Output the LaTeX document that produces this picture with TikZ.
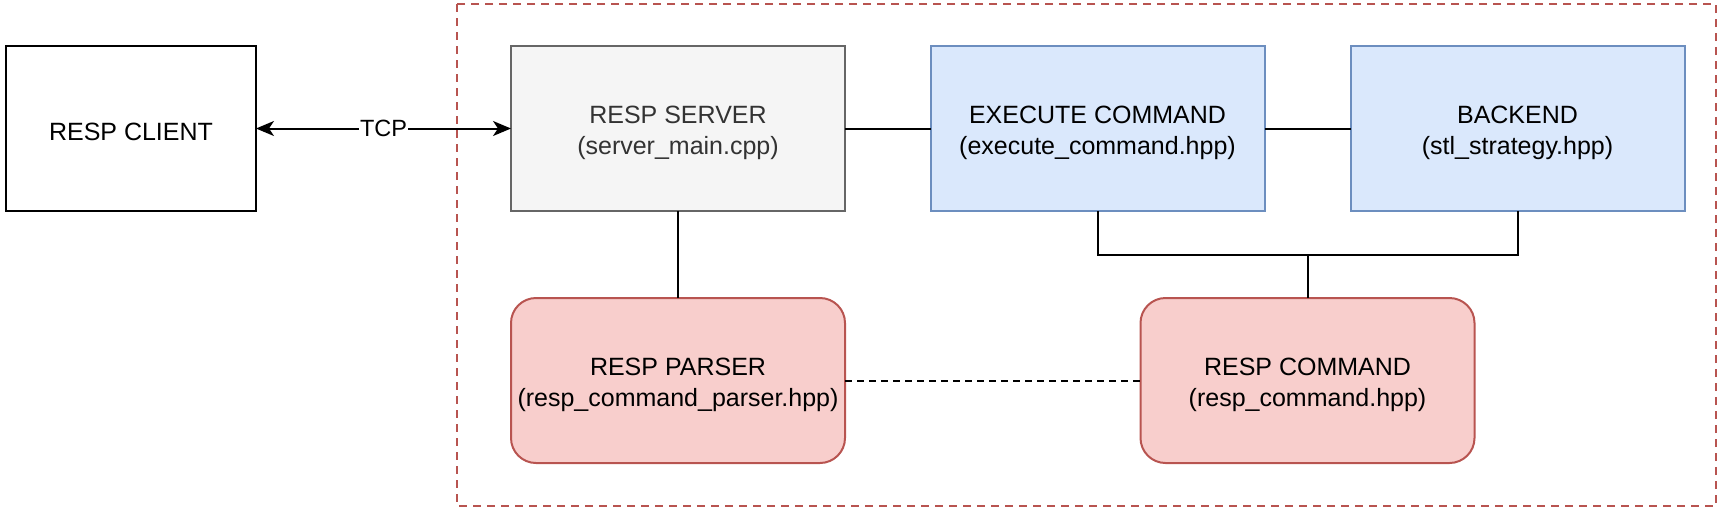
\documentclass[tikz,border=0pt]{standalone}
\usepackage{fontspec}
\setmainfont{Liberation Sans}
\usetikzlibrary{arrows.meta}
\definecolor{grayfill}{HTML}{F5F5F5}
\definecolor{graystroke}{HTML}{666666}
\definecolor{graytext}{HTML}{333333}
\definecolor{bluefill}{HTML}{DAE8FC}
\definecolor{bluestroke}{HTML}{6C8EBF}
\definecolor{redfill}{HTML}{F8CECC}
\definecolor{redstroke}{HTML}{B85450}
\tikzset{
  box/.style={draw, line width=2pt, minimum width=334pt, minimum height=165pt, inner sep=0pt, outer sep=0pt},
  txt/.style={align=center, font=\fontsize{25}{31}\selectfont, inner sep=0pt},
  plainbox/.style={box, draw=black, fill=white, minimum width=250pt},
  graybox/.style={box, draw=graystroke, fill=grayfill},
  bluebox/.style={box, draw=bluestroke, fill=bluefill},
  redbox/.style={box, draw=redstroke, fill=redfill, rounded corners=25pt},
  conn/.style={line width=2pt, draw=black},
  dashconn/.style={conn, dash pattern=on 7pt off 5pt},
  bothtips/.style={>={Stealth[length=18pt, width=15pt, inset=5pt]}, <->}
}
\begin{document}
\begin{tikzpicture}[x=1pt, y=-1pt]
\useasboundingbox (0,0) rectangle (1723,512);
\draw[redstroke, line width=2pt, dash pattern=on 8pt off 6pt] (457,4) rectangle (1716,506);
\node[plainbox] (client) at (131,128.5) {};
\node[graybox] (server) at (678,128.5) {};
\node[bluebox] (exec) at (1097.5,128.5) {};
\node[bluebox] (backend) at (1517.5,128.5) {};
\node[redbox] (parser) at (678,380.5) {};
\node[redbox] (command) at (1307.5,380.5) {};
\node[txt] (clientT) at ([yshift=-3.5pt]client.center) {RESP CLIENT};
\node[txt, text=graytext] (serverT) at ([yshift=-4.5pt]server.center) {RESP SERVER\\(server\_main.cpp)};
\node[txt] (execT) at ([yshift=-4.5pt]exec.center) {EXECUTE COMMAND\\(execute\_command.hpp)};
\node[txt] (backendT) at ([yshift=-4.5pt]backend.center) {BACKEND\\(stl\_strategy.hpp)};
\node[txt] (parserT) at ([yshift=-4.5pt]parser.center) {RESP PARSER\\(resp\_command\_parser.hpp)};
\node[txt] (commandT) at ([yshift=-4.5pt]command.center) {RESP COMMAND\\(resp\_command.hpp)};
\coordinate (join) at (1307.5,255);
\draw[conn, bothtips] (client.east) -- node[fill=white, inner sep=1pt, font=\fontsize{23.5}{27}\selectfont] (tcp) {TCP} (server.west);
\draw[conn] (server.east) -- (exec.west);
\draw[conn] (exec.east) -- (backend.west);
\draw[conn] (server.south) -- (parser.north);
\draw[conn] (exec.south) |- (join) -| (backend.south);
\draw[conn] (join) -- (command.north);
\draw[dashconn] (parser.east) -- (command.west);
\end{tikzpicture}
\end{document}
